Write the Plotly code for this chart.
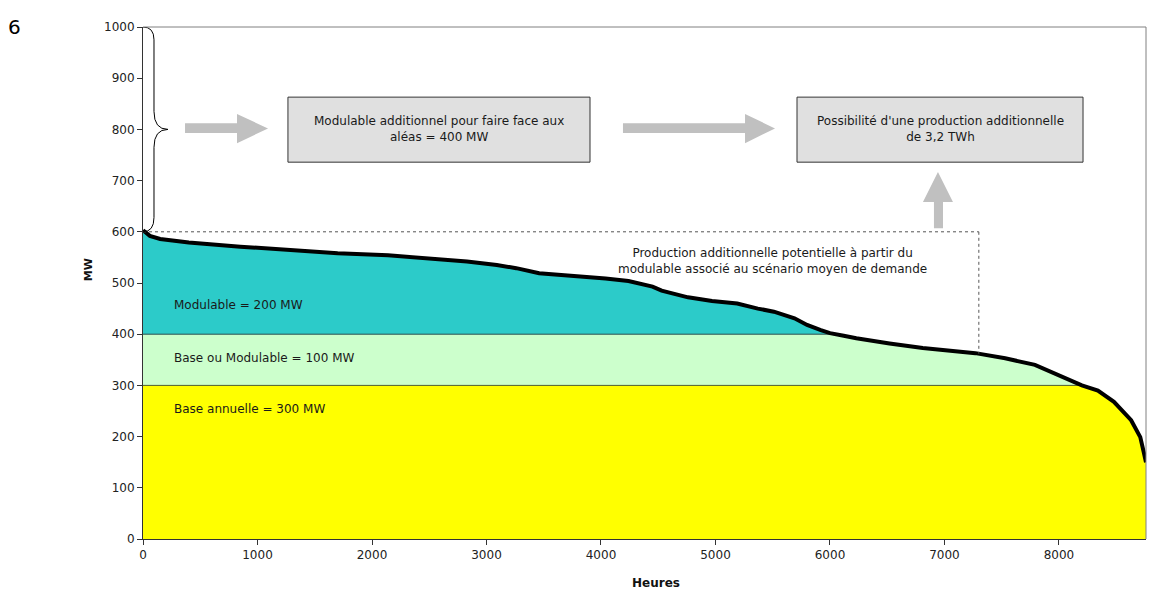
import numpy as np
import plotly.graph_objects as go

# ---- data ----
hours = [0, 60, 150, 400, 850, 1270, 1700, 2140, 2480, 2830, 3090, 3260, 3460, 3780,
         4040, 4240, 4330, 4450, 4530, 4650, 4760, 4970, 5190, 5370, 5510, 5690, 5800,
         5920, 6000, 6120, 6230, 6520, 6810, 7270, 7530, 7790, 7960, 8110, 8200, 8340,
         8480, 8630, 8710, 8740, 8760]
mw = [603, 592, 586, 579, 571, 564, 558, 554, 548, 542, 535, 529, 519, 514,
      509, 504, 499, 493, 485, 479, 472, 465, 460, 450, 444, 431, 418,
      408, 402, 397, 392, 382, 373, 363, 353, 340, 324, 309, 300, 290,
      268, 232, 199, 170, 150]
base_level = 300       # Base annuelle
base_mod_level = 400   # Base ou Modulable (300 + 100)
max_level = 600
additional_end = 7300  # end of dotted potential production region

x_ticks = [0, 1000, 2000, 3000, 4000, 5000, 6000, 7000, 8000]
y_ticks = [0, 100, 200, 300, 400, 500, 600, 700, 800, 900, 1000]

labels_areas = ["Modulable = 200 MW", "Base ou Modulable = 100 MW", "Base annuelle = 300 MW"]
box1_text = "Modulable additionnel pour faire face aux<br>aléas = 400 MW"
box2_text = "Possibilité d'une production additionnelle<br>de 3,2 TWh"
pot_text = "Production additionnelle potentielle à partir du<br>modulable associé au scénario moyen de demande"
x_title = "Heures"
y_title = "MW"

TEAL = "#2ccbc9"
LGREEN = "#ccffcc"
YELLOW = "#ffff00"
FONT = "DejaVu Sans"
TXT = "#1a1a1a"

mw_arr = np.array(mw, dtype=float)

fig = go.Figure()
fig.add_trace(go.Scatter(x=hours, y=mw_arr, mode="lines", fill="tozeroy",
                         fillcolor=TEAL, line=dict(width=0), hoverinfo="skip", showlegend=False))
fig.add_trace(go.Scatter(x=hours, y=np.minimum(mw_arr, base_mod_level), mode="lines", fill="tozeroy",
                         fillcolor=LGREEN, line=dict(width=1, color="#2f4f4f"), hoverinfo="skip", showlegend=False))
fig.add_trace(go.Scatter(x=hours, y=np.minimum(mw_arr, base_level), mode="lines", fill="tozeroy",
                         fillcolor=YELLOW, line=dict(width=1, color="#4f5f2f"), hoverinfo="skip", showlegend=False))
fig.add_trace(go.Scatter(x=hours, y=mw_arr, mode="lines", line=dict(width=4, color="black"),
                         showlegend=False))

shapes = []
# dotted potential region
end_y = float(np.interp(additional_end, hours, mw))
shapes.append(dict(type="line", x0=0, x1=additional_end, y0=max_level, y1=max_level,
                   line=dict(color="#555555", width=1, dash="dot")))
shapes.append(dict(type="line", x0=additional_end, x1=additional_end, y0=max_level, y1=end_y,
                   line=dict(color="#555555", width=1, dash="dot")))
# brace
shapes.append(dict(type="path",
                   path="M 0,1000 Q 96,1000 96,975 L 96,835 Q 96,800 218,800 Q 96,800 96,765 L 96,628 Q 96,600 0,600",
                   line=dict(color="black", width=1)))
# boxes
shapes.append(dict(type="rect", x0=1266, x1=3904, y0=736, y1=863,
                   fillcolor="#e0e0e0", line=dict(color="#333333", width=1)))
shapes.append(dict(type="rect", x0=5712, x1=8210, y0=736, y1=863,
                   fillcolor="#e0e0e0", line=dict(color="#333333", width=1)))
# arrows
ARR = "#c0c0c0"
shapes.append(dict(type="path",
                   path="M 367,793 L 821,793 L 821,773 L 1092,802 L 821,830 L 821,812 L 367,812 Z",
                   fillcolor=ARR, line=dict(width=0)))
shapes.append(dict(type="path",
                   path="M 4192,793 L 5258,793 L 5258,773 L 5520,802 L 5258,830 L 5258,812 L 4192,812 Z",
                   fillcolor=ARR, line=dict(width=0)))
shapes.append(dict(type="path",
                   path="M 6908,607 L 6908,658 L 6812,658 L 6943,717 L 7074,658 L 6987,658 L 6987,607 Z",
                   fillcolor=ARR, line=dict(width=0)))
# top/right frame
shapes.append(dict(type="line", xref="paper", yref="paper", x0=0, x1=1, y0=1, y1=1,
                   line=dict(color="#808080", width=1)))
shapes.append(dict(type="line", xref="paper", yref="paper", x0=1, x1=1, y0=0, y1=1,
                   line=dict(color="#808080", width=1)))

f12 = dict(size=12, color=TXT, family=FONT)
annotations = [
    dict(x=253, y=457, text=labels_areas[0], showarrow=False, xanchor="left", font=f12),
    dict(x=253, y=353, text=labels_areas[1], showarrow=False, xanchor="left", font=f12),
    dict(x=253, y=254, text=labels_areas[2], showarrow=False, xanchor="left", font=f12),
    dict(x=(1266 + 3904) / 2, y=800, text=box1_text, showarrow=False, font=f12),
    dict(x=(5712 + 8210) / 2, y=800, text=box2_text, showarrow=False, font=f12),
    dict(x=5502, y=543, text=pot_text, showarrow=False, font=f12),
    dict(xref="paper", yref="paper", x=-0.128, y=1.0, text="6", showarrow=False,
         xanchor="center", yanchor="middle", font=dict(size=20, color="black", family=FONT)),
    dict(xref="paper", yref="paper", x=0.5115, y=-0.086, text="<b>" + x_title + "</b>", showarrow=False,
         xanchor="center", yanchor="middle", font=dict(size=12, color="#111111", family=FONT)),
    dict(xref="paper", yref="paper", x=-0.0548, y=0.525, text="<b>" + y_title + "</b>", showarrow=False,
         textangle=-90, xanchor="center", yanchor="middle", font=dict(size=11, color="#111111", family=FONT)),
]

fig.update_layout(
    width=1139, height=586,
    margin=dict(l=135, r=1, t=19, b=55),
    paper_bgcolor="white", plot_bgcolor="white",
    shapes=shapes, annotations=annotations,
    font=dict(family=FONT, color="#222222", size=12),
)
fig.update_xaxes(range=[0, 8760], tickvals=x_ticks, ticks="outside", ticklen=5, tickcolor="#333333",
                 showline=True, linecolor="#333333", linewidth=1, showgrid=False, zeroline=False,
                 tickfont=dict(size=12, color="#222222", family=FONT))
fig.update_yaxes(range=[0, 1000], tickvals=y_ticks, ticks="outside", ticklen=5, tickcolor="#333333",
                 showline=True, linecolor="#333333", linewidth=1, showgrid=False, zeroline=False,
                 tickfont=dict(size=12, color="#222222", family=FONT))

fig.write_html("out.html")
